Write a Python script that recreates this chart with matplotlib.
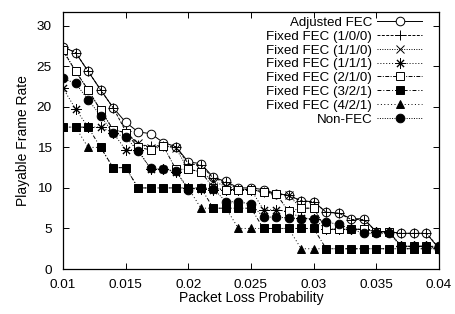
import matplotlib
matplotlib.use("Agg")
import matplotlib.pyplot as plt
import numpy as np

plt.rcParams['font.family'] = ['Liberation Sans', 'DejaVu Sans']

loss = [0.010, 0.011, 0.012, 0.013, 0.014, 0.015, 0.016, 0.017, 0.018, 0.019,
        0.020, 0.021, 0.022, 0.023, 0.024, 0.025, 0.026, 0.027, 0.028, 0.029,
        0.030, 0.031, 0.032, 0.033, 0.034, 0.035, 0.036, 0.037, 0.038, 0.039, 0.040]

adjusted = [27.4, 26.7, 24.4, 22.1, 19.9, 18.1, 16.9, 16.7, 15.6, 15.1,
            13.2, 13.0, 11.3, 10.8, 10.0, 10.0, 9.8, 9.3, 9.1, 8.4,
            8.3, 7.0, 6.9, 6.2, 6.2, 4.6, 4.6, 4.4, 4.4, 4.4, 2.5]
fixed_100 = [27.4, 26.7, 24.4, 22.1, 19.9, 17.0, 15.3, 15.2, 15.2, 15.1,
             13.0, 12.8, 11.2, 10.7, 9.8, 9.8, 9.5, 9.3, 9.1, 8.4,
             8.3, 7.0, 6.9, 6.1, 6.1, 4.6, 4.6, 4.4, 4.4, 4.4, 2.6]
fixed_110 = [26.9, 24.4, 22.1, 19.6, 17.2, 16.8, 15.5, 14.9, 15.2, 14.9,
             12.3, 12.0, 10.8, 10.2, 9.8, 9.8, 9.5, 9.3, 9.1, 7.5,
             7.5, 4.9, 4.9, 4.9, 4.9, 4.6, 4.6, 2.8, 2.8, 2.8, 2.6]
fixed_111 = [22.3, 19.75, 17.5, 17.5, 16.8, 14.7, 14.7, 12.3, 12.3, 12.0,
             10.0, 9.9, 9.8, 9.8, 9.8, 9.8, 7.3, 7.3, 7.1, 6.3,
             6.2, 4.9, 4.9, 4.9, 4.9, 4.6, 4.6, 2.8, 2.8, 2.8, 2.6]
fixed_210 = [27.0, 24.4, 22.1, 19.6, 17.2, 16.8, 15.0, 14.7, 15.2, 12.3,
             12.3, 12.0, 10.0, 9.8, 9.8, 9.8, 9.5, 9.3, 7.1, 7.5,
             7.5, 4.9, 4.9, 4.9, 4.9, 4.6, 4.6, 2.8, 2.8, 2.8, 2.6]
fixed_321 = [17.5, 17.5, 17.5, 15.0, 12.5, 12.5, 10.0, 10.0, 10.0, 10.0,
             10.0, 10.0, 7.5, 7.5, 7.5, 7.5, 5.0, 5.0, 5.0, 5.0,
             5.0, 2.5, 2.5, 2.5, 2.5, 2.5, 2.5, 2.5, 2.5, 2.5, 2.5]
fixed_421 = [17.5, 17.5, 15.0, 15.0, 12.5, 12.5, 10.0, 10.0, 10.0, 10.0,
             10.0, 7.5, 7.5, 7.5, 5.0, 5.0, 5.0, 5.0, 5.0, 2.5,
             2.5, 2.5, 2.5, 2.5, 2.5, 2.5, 2.5, 2.5, 2.5, 2.5, 2.5]
non_fec = [23.5, 22.9, 20.9, 18.9, 16.75, 16.3, 14.5, 12.4, 12.3, 12.1,
           9.8, 10.0, 9.9, 8.3, 8.3, 8.0, 6.4, 6.4, 6.3, 6.2,
           6.2, 5.8, 5.5, 4.9, 4.4, 4.4, 4.4, 2.8, 2.8, 2.8, 2.8]

labels = ["Adjusted FEC", "Fixed FEC (1/0/0)", "Fixed FEC (1/1/0)", "Fixed FEC (1/1/1)",
          "Fixed FEC (2/1/0)", "Fixed FEC (3/2/1)", "Fixed FEC (4/2/1)", "Non-FEC"]
series = [adjusted, fixed_100, fixed_110, fixed_111, fixed_210, fixed_321, fixed_421, non_fec]

styles = [
    dict(marker='o', mfc='white', ls='-', ms=6.2),
    dict(marker='+', mfc='none', ls=(0, (3, 1.5)), ms=7.2),
    dict(marker='x', mfc='none', ls=(0, (1, 1.5)), ms=6.2),
    dict(marker=(8, 2, 0), mfc='none', ls=(0, (1, 2)), ms=7.2),
    dict(marker='s', mfc='white', ls=(0, (4, 1.5, 1, 1.5)), ms=6.2),
    dict(marker='s', mfc='black', ls=(0, (4, 2, 1, 2)), ms=6.2),
    dict(marker='^', mfc='black', ls=(0, (1, 2.5)), ms=6.2),
    dict(marker='o', mfc='black', ls=(0, (1, 1.5)), ms=6.2),
]

fig = plt.figure(figsize=(4.55, 3.14), dpi=100)
ax = fig.add_axes([63/455, 45/314, 376/455, 257/314])

for vals, lab, st in zip(series, labels, styles):
    ax.plot(loss, vals, color='black', lw=0.7, mec='black', mew=0.7,
            label=lab, **st)

ax.set_xlim(0.01, 0.04)
ax.set_ylim(0, 31.7)
ax.set_xticks([0.01, 0.015, 0.02, 0.025, 0.03, 0.035, 0.04])
ax.set_xticklabels(["0.01", "0.015", "0.02", "0.025", "0.03", "0.035", "0.04"])
ax.set_yticks([0, 5, 10, 15, 20, 25, 30])
ax.tick_params(direction='in', length=4, width=0.7, labelsize=9.7, top=True, right=True)
ax.tick_params(axis='x', pad=7)
ax.tick_params(axis='y', pad=8)
for s in ax.spines.values():
    s.set_linewidth(0.9)
ax.set_xlabel("Packet Loss Probability", fontsize=10, labelpad=0)
ax.set_ylabel("Playable Frame Rate", fontsize=10, labelpad=5)

leg = ax.legend(loc='upper right', bbox_to_anchor=(0.955, 0.982), frameon=False,
                markerfirst=False, fontsize=9.6, handlelength=3.35, handletextpad=0.38,
                labelspacing=0.11, borderpad=0.0, borderaxespad=0)

fig.savefig("out.png", dpi=100)
